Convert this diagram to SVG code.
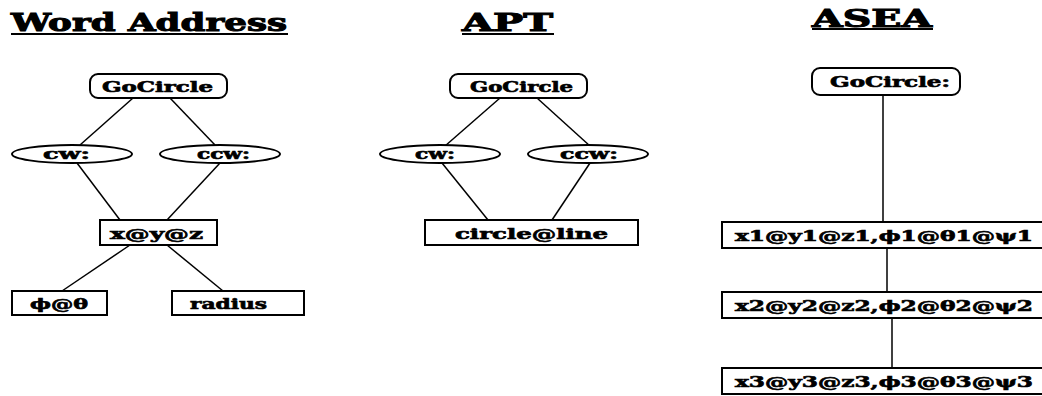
<svg xmlns="http://www.w3.org/2000/svg" width="1042" height="396" viewBox="0 0 1042 396">
  <style>
    .title { font-family: "DejaVu Serif", "Liberation Serif", serif; font-weight: bold; font-size: 24px; fill: #000; stroke: #000; stroke-width: 1; }
    .lbl { font-family: "DejaVu Serif", "Liberation Serif", serif; font-weight: bold; font-size: 14px; fill: #000; stroke: #000; stroke-width: 0.6; }
    .box { fill: #fff; stroke: #000; stroke-width: 2; }
    .ul { stroke: #000; stroke-width: 2; }
    .conn line { stroke: #000; stroke-width: 1.5; }
  </style>
  <rect width="1042" height="396" fill="#fff"/>

  <!-- column titles -->
  <g id="titles">
    <text class="title" x="11" y="31" textLength="276" lengthAdjust="spacingAndGlyphs">Word Address</text>
    <line class="ul" x1="11" y1="34" x2="288" y2="34"/>
    <text class="title" x="462" y="31" textLength="91" lengthAdjust="spacingAndGlyphs">APT</text>
    <line class="ul" x1="462" y1="34" x2="554" y2="34"/>
    <text class="title" x="812" y="27" textLength="120" lengthAdjust="spacingAndGlyphs">ASEA</text>
    <line class="ul" x1="812" y1="29" x2="933" y2="29"/>
  </g>

  <!-- connectors -->
  <g id="connectors" class="conn">
    <line x1="133" y1="98" x2="80" y2="145"/>
    <line x1="170" y1="98" x2="215" y2="145"/>
    <line x1="77" y1="163" x2="120" y2="220"/>
    <line x1="220" y1="163" x2="167" y2="220"/>
    <line x1="130" y1="245" x2="62" y2="291"/>
    <line x1="167" y1="245" x2="223" y2="291"/>

    <line x1="500" y1="98" x2="445" y2="146"/>
    <line x1="537" y1="98" x2="590" y2="146"/>
    <line x1="442" y1="163" x2="488" y2="220"/>
    <line x1="590" y1="163" x2="552" y2="220"/>

    <line x1="883" y1="95" x2="883" y2="222"/>
    <line x1="887" y1="248" x2="887" y2="292"/>
    <line x1="892" y1="318" x2="892" y2="368"/>
  </g>

  <!-- Word Address -->
  <g id="wa-gocircle">
    <rect class="box" x="90" y="74" width="137" height="24" rx="8"/>
    <text class="lbl" x="102" y="92" textLength="111" lengthAdjust="spacingAndGlyphs">GoCircle</text>
  </g>
  <g id="wa-cw">
    <ellipse class="box" cx="72" cy="154" rx="60" ry="9"/>
    <text class="lbl" x="43" y="159" textLength="47" lengthAdjust="spacingAndGlyphs">cw:</text>
  </g>
  <g id="wa-ccw">
    <ellipse class="box" cx="220" cy="154" rx="60" ry="9"/>
    <text class="lbl" x="197" y="159" textLength="53" lengthAdjust="spacingAndGlyphs">ccw:</text>
  </g>
  <g id="wa-xyz">
    <rect class="box" x="100" y="220" width="117" height="25"/>
    <text class="lbl" x="110" y="239" textLength="93" lengthAdjust="spacingAndGlyphs">x@y@z</text>
  </g>
  <g id="wa-angles">
    <rect class="box" x="12" y="291" width="95" height="24"/>
    <text class="lbl" x="30" y="309" textLength="58" lengthAdjust="spacingAndGlyphs">ϕ@θ</text>
  </g>
  <g id="wa-radius">
    <rect class="box" x="172" y="291" width="132" height="24"/>
    <text class="lbl" x="190" y="309" textLength="77" lengthAdjust="spacingAndGlyphs">radius</text>
  </g>

  <!-- APT -->
  <g id="apt-gocircle">
    <rect class="box" x="450" y="74" width="137" height="24" rx="8"/>
    <text class="lbl" x="470" y="92" textLength="103" lengthAdjust="spacingAndGlyphs">GoCircle</text>
  </g>
  <g id="apt-cw">
    <ellipse class="box" cx="440" cy="154" rx="60" ry="9"/>
    <text class="lbl" x="415" y="159" textLength="40" lengthAdjust="spacingAndGlyphs">cw:</text>
  </g>
  <g id="apt-ccw">
    <ellipse class="box" cx="588" cy="154" rx="60" ry="9"/>
    <text class="lbl" x="560" y="159" textLength="58" lengthAdjust="spacingAndGlyphs">ccw:</text>
  </g>
  <g id="apt-circleline">
    <rect class="box" x="425" y="220" width="213" height="25"/>
    <text class="lbl" x="455" y="239" textLength="153" lengthAdjust="spacingAndGlyphs">circle@line</text>
  </g>

  <!-- ASEA -->
  <g id="asea-gocircle">
    <rect class="box" x="812" y="68" width="148" height="27" rx="8"/>
    <text class="lbl" x="830" y="87" textLength="120" lengthAdjust="spacingAndGlyphs">GoCircle:</text>
  </g>
  <g id="asea-pose1">
    <rect class="box" x="722" y="222" width="330" height="26"/>
    <text class="lbl" x="735" y="241" textLength="298" lengthAdjust="spacingAndGlyphs">x1@y1@z1,ϕ1@θ1@ψ1</text>
  </g>
  <g id="asea-pose2">
    <rect class="box" x="722" y="292" width="330" height="26"/>
    <text class="lbl" x="735" y="311" textLength="298" lengthAdjust="spacingAndGlyphs">x2@y2@z2,ϕ2@θ2@ψ2</text>
  </g>
  <g id="asea-pose3">
    <rect class="box" x="722" y="368" width="330" height="26"/>
    <text class="lbl" x="735" y="387" textLength="298" lengthAdjust="spacingAndGlyphs">x3@y3@z3,ϕ3@θ3@ψ3</text>
  </g>
</svg>
